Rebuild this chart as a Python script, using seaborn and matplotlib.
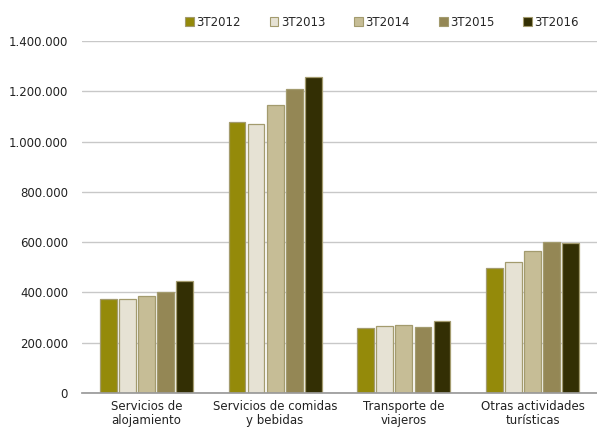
import matplotlib
matplotlib.use("Agg")
import matplotlib.pyplot as plt
import matplotlib.ticker as mticker
import seaborn as sns
import pandas as pd
import numpy as np

categories = ["Servicios de\nalojamiento", "Servicios de comidas\ny bebidas",
              "Transporte de\nviajeros", "Otras actividades\nturísticas"]
series = ["3T2012", "3T2013", "3T2014", "3T2015", "3T2016"]
v2012 = [372000, 1079000, 258000, 497000]
v2013 = [374000, 1071000, 266000, 520000]
v2014 = [385000, 1144000, 270000, 565000]
v2015 = [402000, 1210000, 261000, 600000]
v2016 = [445000, 1256000, 285000, 595000]
colors = ["#948A0A", "#E6E2D4", "#C6BD96", "#948755", "#332F04"]
yticks = [0, 200000, 400000, 600000, 800000, 1000000, 1200000, 1400000]

rows = []
for s, vals in zip(series, [v2012, v2013, v2014, v2015, v2016]):
    for c, v in zip(categories, vals):
        rows.append({"cat": c, "serie": s, "val": v})
df = pd.DataFrame(rows)

sns.set_theme(style="white")
plt.rcParams['font.family'] = ['DejaVu Sans']
fig = plt.figure(figsize=(5.97, 4.28), dpi=100)
ax = fig.add_axes([82/597, 1-393/428, 1-82/597, (393-41)/428])

sns.barplot(data=df, x="cat", y="val", hue="serie", palette=colors, ax=ax,
            width=0.74, saturation=1, edgecolor="#A39B6E", linewidth=0.9, legend=True)

# leave a small gap between neighbouring bars
for p in ax.patches:
    w = p.get_width()
    if w > 0:
        nw = w * 0.88
        p.set_x(p.get_x() + (w - nw) / 2)
        p.set_width(nw)

ax.set_ylim(0, 1400000)
ax.set_xlim(-0.5, 3.5)
ax.set_yticks(yticks)
ax.yaxis.set_major_formatter(mticker.FuncFormatter(lambda v, p: f"{int(v):,}".replace(",", ".")))
ax.grid(axis="y", color="#C8C8C8", linewidth=1)
ax.set_axisbelow(True)
for s in ["top", "right", "left"]:
    ax.spines[s].set_visible(False)
ax.spines["bottom"].set_color("#9A9A9A")
ax.set_xlabel("")
ax.set_ylabel("")
ax.tick_params(axis="y", length=0, labelsize=8.5, colors="#222222", pad=10)
ax.tick_params(axis="x", which="major", length=0, labelsize=8.5, colors="#222222", pad=5)
ax.set_xticks([-0.5, 0.5, 1.5, 2.5, 3.5], minor=True)
ax.tick_params(axis="x", which="minor", length=5, color="#9A9A9A", direction="out")
for lab in ax.get_xticklabels():
    lab.set_linespacing(1.15)

ax.legend_.remove()
handles = [plt.Rectangle((0, 0), 1, 1, facecolor=c, edgecolor="#A39B6E", linewidth=0.8) for c in colors]
fig.legend(handles, series, ncol=5, loc="center", bbox_to_anchor=(382/597, 1-22/428),
           frameon=False, fontsize=8.5, handlelength=0.75, handleheight=0.75,
           handletextpad=0.2, columnspacing=2.45)

fig.savefig("out.png", dpi=100)
